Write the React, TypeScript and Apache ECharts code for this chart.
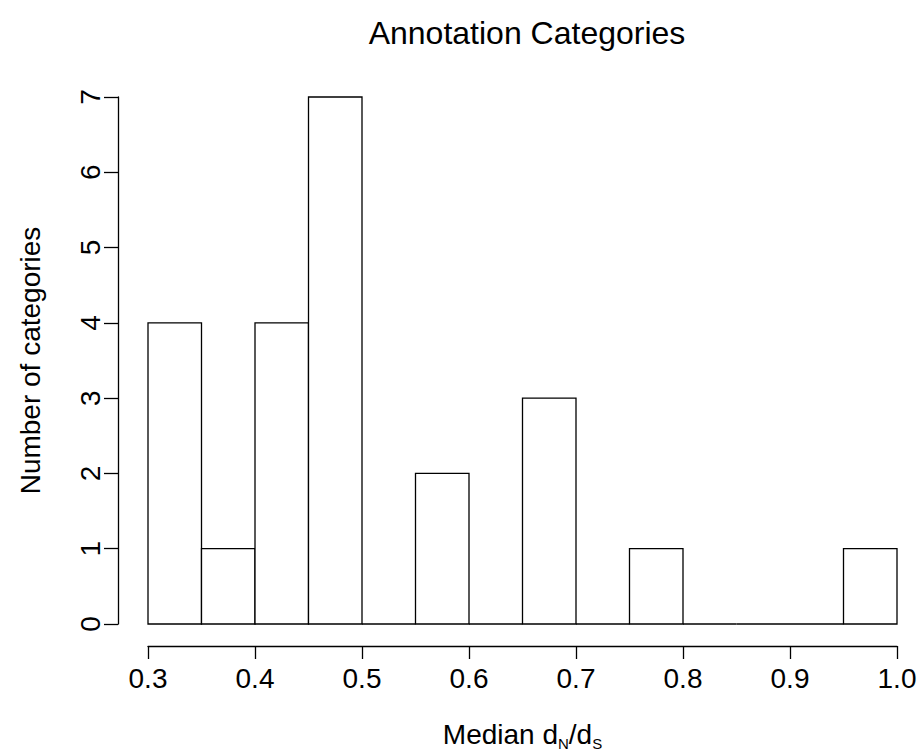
import React, { useEffect, useRef } from "react";
import * as echarts from "echarts";

const breaks = [0.3, 0.35, 0.4, 0.45, 0.5, 0.55, 0.6, 0.65, 0.7, 0.75, 0.8, 0.85, 0.9, 0.95, 1.0];
const counts = [4, 1, 4, 7, 0, 2, 0, 3, 0, 1, 0, 0, 0, 1];
const xTicks = [0.3, 0.4, 0.5, 0.6, 0.7, 0.8, 0.9, 1.0];
const yTicks = [0, 1, 2, 3, 4, 5, 6, 7];

const FONT = "Liberation Sans, Arial, Helvetica, sans-serif";

export default function App() {
  const ref = useRef<HTMLDivElement>(null);
  useEffect(() => {
    if (!ref.current) return;
    const chart = echarts.init(ref.current, null, { renderer: "svg" });
    const data = counts.map((c, i) => [breaks[i], breaks[i + 1], c]);
    chart.setOption({
      animation: false,
      backgroundColor: "#fff",
      title: {
        text: "Annotation Categories",
        left: 522,
        textAlign: "center",
        top: 12,
        textStyle: { fontFamily: FONT, fontSize: 32, fontWeight: "normal", color: "#000" },
      },
      grid: { left: 148, right: 921 - 897, top: 97, bottom: 756 - 626 },
      xAxis: {
        type: "value",
        min: 0.3,
        max: 1.0,
        interval: 0.1,
        offset: 22,
        axisLine: { show: true, onZero: false, lineStyle: { color: "#000", width: 1.3 } },
        axisTick: { show: true, length: 13, lineStyle: { color: "#000", width: 1.3 } },
        splitLine: { show: false },
        axisLabel: {
          fontFamily: FONT,
          fontSize: 28,
          color: "#000",
          margin: 18,
          formatter: (v: number) => {
            const t = xTicks.find((x) => Math.abs(x - v) < 1e-9);
            return t === undefined ? "" : t.toFixed(1);
          },
        },
        name: "Median {m|d}{s|N}{m|/d}{s|S}",
        nameLocation: "middle",
        nameGap: 72,
        nameTextStyle: {
          fontFamily: FONT,
          fontSize: 28,
          color: "#000",
          rich: {
            m: { fontFamily: FONT, fontSize: 28, color: "#000" },
            s: { fontFamily: FONT, fontSize: 15, color: "#000", verticalAlign: "bottom", padding: [18, 0, 0, 0] },
          },
        },
      },
      yAxis: {
        type: "value",
        min: 0,
        max: 7,
        interval: 1,
        offset: 30,
        axisLine: { show: true, lineStyle: { color: "#000", width: 1.3 } },
        axisTick: { show: true, length: 14, lineStyle: { color: "#000", width: 1.3 } },
        splitLine: { show: false },
        axisLabel: {
          fontFamily: FONT,
          fontSize: 28,
          color: "#000",
          rotate: 90,
          margin: 14,
          formatter: (v: number) => (yTicks.includes(v) ? String(v) : ""),
        },
        name: "Number of categories",
        nameLocation: "middle",
        nameGap: 74,
        nameTextStyle: { fontFamily: FONT, fontSize: 28, color: "#000" },
      },
      series: [
        {
          type: "custom",
          data,
          encode: { x: [0, 1], y: 2 },
          renderItem: (params: any, api: any) => {
            const x0 = api.value(0);
            const x1 = api.value(1);
            const c = api.value(2);
            const p0 = api.coord([x0, c]);
            const p1 = api.coord([x1, 0]);
            if (c === 0) {
              return {
                type: "line",
                shape: { x1: p0[0], y1: p1[1], x2: p1[0], y2: p1[1] },
                style: { stroke: "#000", lineWidth: 1.3 },
              };
            }
            return {
              type: "rect",
              shape: { x: p0[0], y: p0[1], width: p1[0] - p0[0], height: p1[1] - p0[1] },
              style: { fill: "#fff", stroke: "#000", lineWidth: 1.3 },
            };
          },
        },
      ],
    });
    return () => chart.dispose();
  }, []);
  return <div ref={ref} style={{ width: 921, height: 756, position: "absolute", left: 0, top: 0 }} />;
}
